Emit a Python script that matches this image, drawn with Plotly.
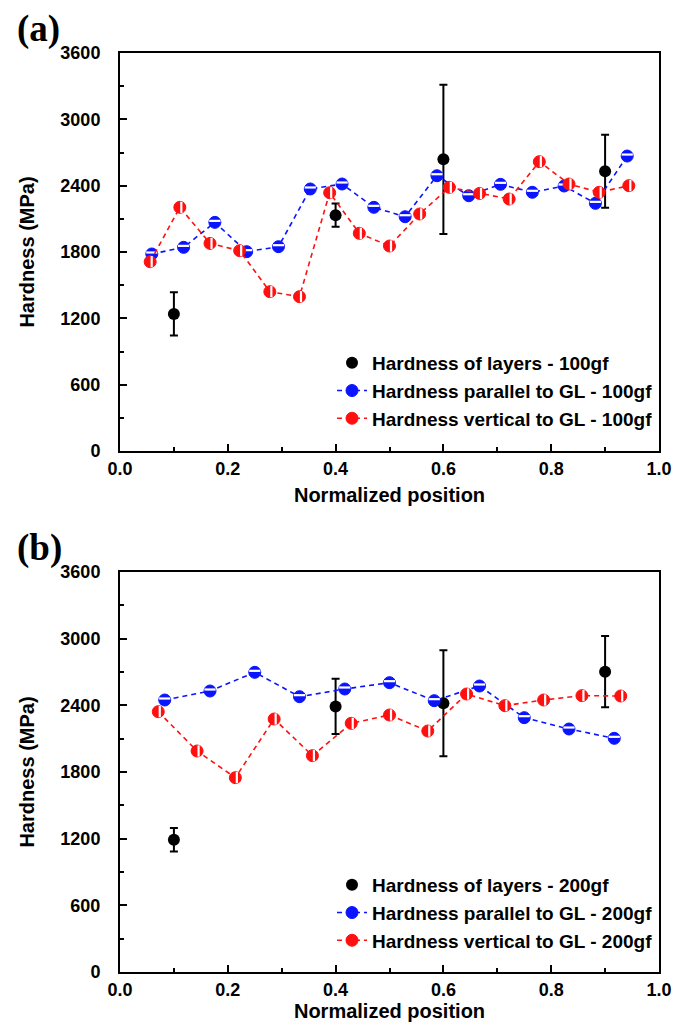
import plotly.graph_objects as go

# ---------------- data: panel (a) 100 gf ----------------
a_layer_x = [0.1, 0.4, 0.6, 0.9]
a_layer_y = [1240, 2133, 2638, 2530]
a_layer_err = [195, 105, 675, 330]

a_par_x = [0.059, 0.118, 0.176, 0.235, 0.294, 0.353, 0.412, 0.471, 0.529,
           0.588, 0.647, 0.706, 0.765, 0.824, 0.882, 0.941]
a_par_y = [1782, 1842, 2068, 1803, 1848, 2370, 2415, 2204, 2119,
           2490, 2309, 2412, 2340, 2397, 2240, 2668]

a_ver_x = [0.056, 0.111, 0.167, 0.222, 0.278, 0.333, 0.389, 0.444, 0.500,
           0.556, 0.611, 0.667, 0.722, 0.778, 0.833, 0.889, 0.944]
a_ver_y = [1712, 2204, 1878, 1812, 1441, 1396, 2336, 1969, 1854,
           2144, 2385, 2330, 2279, 2617, 2415, 2340, 2400]

# ---------------- data: panel (b) 200 gf ----------------
b_layer_x = [0.1, 0.4, 0.6, 0.9]
b_layer_y = [1190, 2390, 2418, 2703]
b_layer_err = [105, 249, 477, 320]

b_par_x = [0.083, 0.167, 0.250, 0.333, 0.417, 0.500, 0.583, 0.667, 0.750, 0.833, 0.917]
b_par_y = [2448, 2529, 2697, 2478, 2547, 2604, 2442, 2574, 2289, 2187, 2103]

b_ver_x = [0.071, 0.143, 0.214, 0.286, 0.357, 0.429, 0.500, 0.571, 0.643,
           0.714, 0.786, 0.857, 0.929]
b_ver_y = [2343, 1989, 1749, 2277, 1947, 2238, 2313, 2169, 2502, 2397, 2448, 2487, 2484]

x_ticks = [0.0, 0.2, 0.4, 0.6, 0.8, 1.0]
y_ticks = [0, 600, 1200, 1800, 2400, 3000, 3600]

BLUE = "#0a14ff"
RED = "#ff1010"
FONT = "Liberation Sans, Arial, sans-serif"

# page body has an 8px margin, so the figure is sized to fit the window
W, H = 670, 1014
OFF = 8


def xp(X):
    return (X - OFF) / W


def yp(Y):
    return 1 - (Y - OFF) / H


fig = go.Figure()


def add_panel(xa, ya, leg, load, lx, ly, lerr, px, py, vx, vy):
    fig.add_trace(go.Scatter(
        x=lx, y=ly, mode="markers", xaxis=xa, yaxis=ya, legend=leg,
        name=f"Hardness of layers - {load}", legendgroup=f"{leg}1",
        marker=dict(symbol="circle", size=12, color="black"),
        error_y=dict(type="data", array=lerr, color="black", thickness=2, width=4),
    ))
    for xs, ys, col, ang, nm, g in [
        (px, py, BLUE, 180, f"Hardness parallel to GL - {load}", "2"),
        (vx, vy, RED, 270, f"Hardness vertical to GL - {load}", "3"),
    ]:
        fig.add_trace(go.Scatter(
            x=xs, y=ys, mode="lines+markers", xaxis=xa, yaxis=ya, legend=leg,
            name=nm, legendgroup=f"{leg}{g}",
            line=dict(color=col, width=1.6, dash="5px,4px"),
            marker=dict(symbol="circle", size=12, color=col,
                        line=dict(color=col, width=1)),
        ))
        # white stripe giving the half-filled look
        fig.add_trace(go.Scatter(
            x=xs, y=ys, mode="markers", xaxis=xa, yaxis=ya, showlegend=False,
            legendgroup=f"{leg}{g}", hoverinfo="skip",
            marker=dict(symbol="line-ew", size=8, angle=ang, standoff=1.5,
                        line=dict(color="white", width=2.2)),
        ))


add_panel("x", "y", "legend", "100gf", a_layer_x, a_layer_y, a_layer_err,
          a_par_x, a_par_y, a_ver_x, a_ver_y)
add_panel("x2", "y2", "legend2", "200gf", b_layer_x, b_layer_y, b_layer_err,
          b_par_x, b_par_y, b_ver_x, b_ver_y)

xdom = [xp(120), xp(659)]
ydom_a = [yp(451), yp(53)]
ydom_b = [yp(972), yp(572)]

tickfont = dict(family=FONT, size=18, color="black", weight="bold")
titlefont = dict(family=FONT, size=20, color="black", weight="bold")
legfont = dict(family=FONT, size=19, color="black", weight="bold")

common = dict(showline=True, linewidth=2, linecolor="black", mirror=True,
              ticks="inside", ticklen=7, tickwidth=2, tickcolor="black",
              showgrid=False, zeroline=False, tickfont=tickfont, automargin=False)

xcommon = dict(common, range=[0, 1], tickvals=x_ticks, tickformat=".1f",
               minor=dict(ticks="inside", ticklen=4, tickwidth=2, dtick=0.1,
                          tickcolor="black", showgrid=False),
               ticklabelstandoff=0)
ycommon = dict(common, range=[0, 3600], tickvals=y_ticks,
               minor=dict(ticks="inside", ticklen=4, tickwidth=2, dtick=300,
                          tickcolor="black", showgrid=False),
               ticklabelstandoff=14)

serif = dict(family="Liberation Serif, Times New Roman, serif", size=37,
             color="black", weight="bold")

fig.update_layout(
    width=W, height=H, margin=dict(l=0, r=0, t=0, b=0, autoexpand=False),
    plot_bgcolor="white", paper_bgcolor="white",
    xaxis=dict(xcommon, domain=xdom, anchor="y",
               title=dict(text="Normalized position", font=titlefont, standoff=10)),
    yaxis=dict(ycommon, domain=ydom_a, anchor="x",
               title=dict(text="Hardness (MPa)", font=titlefont, standoff=20)),
    xaxis2=dict(xcommon, domain=xdom, anchor="y2",
                title=dict(text="Normalized position", font=titlefont, standoff=10)),
    yaxis2=dict(ycommon, domain=ydom_b, anchor="x2",
                title=dict(text="Hardness (MPa)", font=titlefont, standoff=20)),
    legend=dict(x=xp(332), y=yp(344), xanchor="left", yanchor="top",
                bgcolor="rgba(0,0,0,0)", font=legfont,
                tracegroupgap=0, traceorder="grouped"),
    legend2=dict(x=xp(332), y=yp(866), xanchor="left", yanchor="top",
                 bgcolor="rgba(0,0,0,0)", font=legfont,
                 tracegroupgap=0, traceorder="grouped"),
    annotations=[
        dict(text="(a)", x=xp(15), y=yp(29), xref="paper", yref="paper",
             xanchor="left", yanchor="middle", showarrow=False, font=serif),
        dict(text="(b)", x=xp(15), y=yp(548), xref="paper", yref="paper",
             xanchor="left", yanchor="middle", showarrow=False, font=serif),
    ],
    showlegend=True,
)

fig.write_html("out.html")
